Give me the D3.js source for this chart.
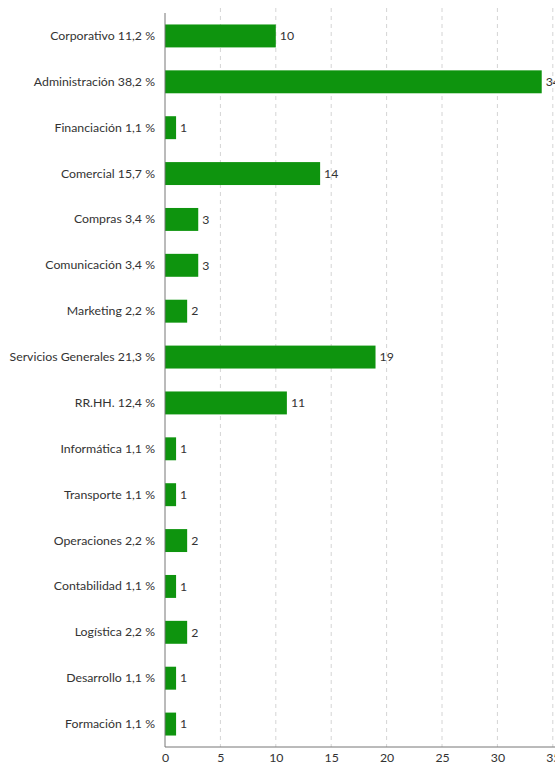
<!DOCTYPE html>
<html>
<head>
<meta charset="utf-8">
<script src="https://cdn.jsdelivr.net/npm/d3@7"></script>
<style>
  body { margin: 0; background: #fff; }
  svg { display: block; }
  svg text { font-family: Lato, "Open Sans", sans-serif; }
</style>
</head>
<body>
<svg id="chart"></svg>
<script>
// Department names, share labels and counts
const departments = ["Corporativo", "Administración", "Financiación", "Comercial", "Compras",
  "Comunicación", "Marketing", "Servicios Generales", "RR.HH.", "Informática", "Transporte",
  "Operaciones", "Contabilidad", "Logística", "Desarrollo", "Formación"];
const shares = ["11,2", "38,2", "1,1", "15,7", "3,4", "3,4", "2,2", "21,3", "12,4", "1,1", "1,1",
  "2,2", "1,1", "2,2", "1,1", "1,1"];
const counts = [10, 34, 1, 14, 3, 3, 2, 19, 11, 1, 1, 2, 1, 2, 1, 1];
const xTicks = [0, 5, 10, 15, 20, 25, 30, 35];

const width = 555, height = 763;
const margin = { top: 13, right: 2, bottom: 16, left: 165 };
const innerH = height - margin.top - margin.bottom;
const fontSize = "12.3px";

const svg = d3.select("#chart").attr("width", width).attr("height", height);
const g = svg.append("g").attr("transform", `translate(${margin.left},${margin.top})`);

const labels = departments.map((d, i) => `${d} ${shares[i]} %`);

const x = d3.scaleLinear().domain([0, 35]).range([0, 35 * 11.08]);
const y = d3.scaleBand().domain(labels).range([0, innerH]).paddingInner(0.5).paddingOuter(0.25);

// dashed grid lines
g.selectAll(".grid").data(xTicks.slice(1)).enter().append("line")
  .attr("x1", d => x(d)).attr("x2", d => x(d))
  .attr("y1", -5).attr("y2", innerH)
  .attr("stroke", "#d4d4d4").attr("stroke-dasharray", "4,4");

// bars
g.selectAll(".bar").data(counts).enter().append("rect")
  .attr("x", 0)
  .attr("y", (d, i) => y(labels[i]))
  .attr("width", d => x(d))
  .attr("height", y.bandwidth())
  .attr("fill", "#0e940e");

// value labels
g.selectAll(".val").data(counts).enter().append("text")
  .attr("x", d => x(d) + 4)
  .attr("y", (d, i) => y(labels[i]) + y.bandwidth() / 2)
  .attr("dy", "0.35em")
  .attr("fill", "#333")
  .style("font-size", fontSize)
  .text(d => d);

// category axis
const yAxis = g.append("g").call(d3.axisLeft(y).tickSize(0).tickPadding(10))
  .attr("font-family", null);
yAxis.select(".domain").attr("stroke", "#777").attr("d", `M0,0V${innerH}`);
yAxis.selectAll("text").attr("fill", "#333").style("font-size", fontSize);

// value axis
const xAxis = g.append("g").attr("transform", `translate(0,${innerH})`)
  .call(d3.axisBottom(x).tickValues(xTicks).tickSize(0).tickPadding(6))
  .attr("font-family", null);
xAxis.select(".domain").attr("stroke", "#777").attr("d", `M0,0H${x(35) + 5}`);
xAxis.selectAll("text").attr("fill", "#333").style("font-size", fontSize);
</script>
</body>
</html>
